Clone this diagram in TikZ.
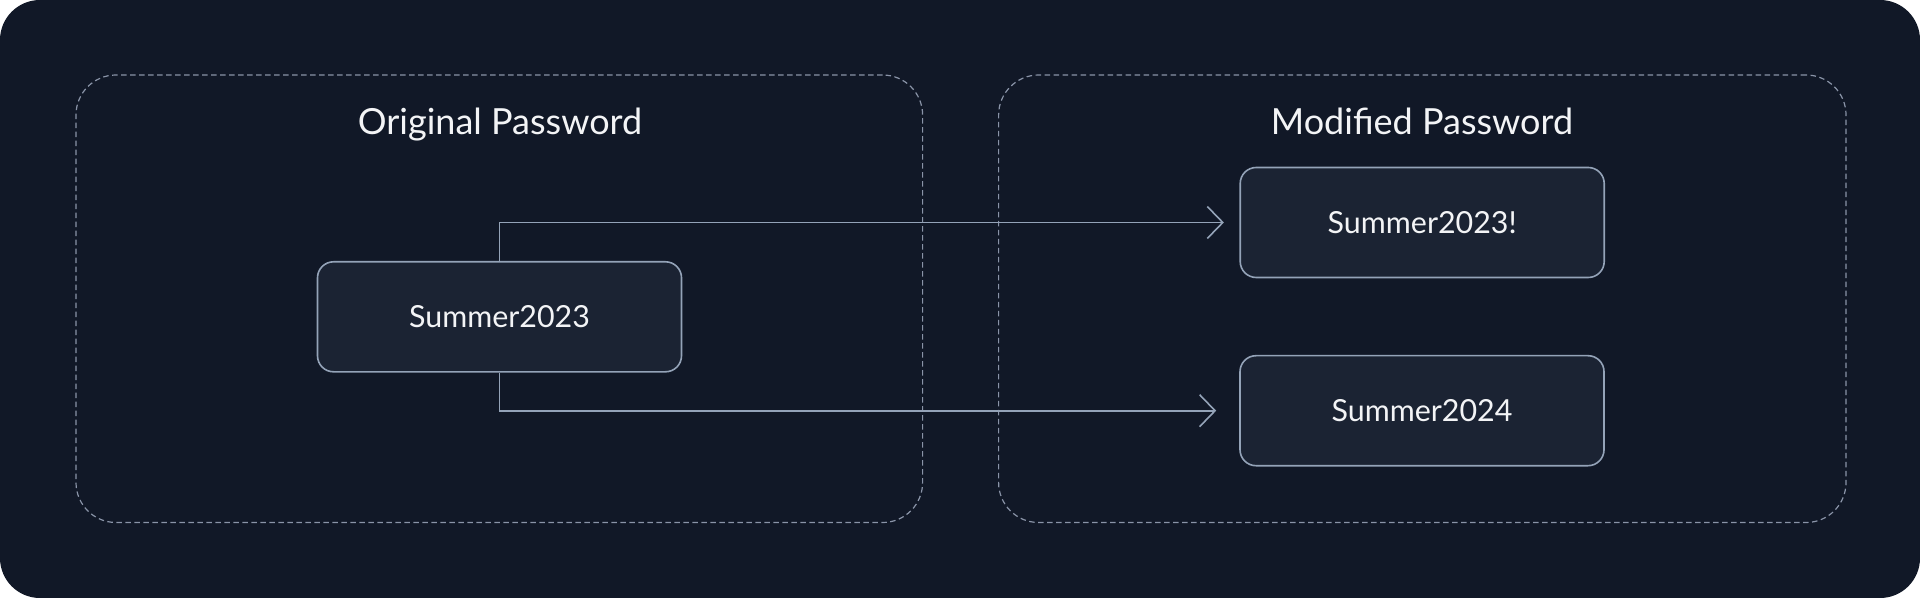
\documentclass[tikz,border=0pt]{standalone}
\usepackage{fontspec}
\setmainfont{Lato}
\usetikzlibrary{arrows.meta,positioning}
\definecolor{bgdark}{HTML}{111827}
\definecolor{boxfill}{HTML}{1B2333}
\definecolor{boxline}{HTML}{94A3B8}
\definecolor{dashline}{HTML}{8A94A8}
\definecolor{txt}{HTML}{F3F4F6}
\tikzset{
  pwbox/.style={draw=boxline, line width=0.8pt, fill=boxfill, rounded corners=8pt,
    minimum width=182pt, minimum height=55pt, inner sep=0pt,
    text=txt, font=\fontsize{15.2}{17}\selectfont},
  groupbox/.style={draw=dashline, line width=0.6pt, dash pattern=on 2.75pt off 1.75pt,
    rounded corners=20pt, inner sep=0pt},
  grouptitle/.style={text=txt, font=\fontsize{18}{20}\selectfont, anchor=base, inner sep=0pt},
  conn/.style={draw=boxline, line width=0.8pt,
    -{Straight Barb[length=7.75pt,width=16pt,line width=0.8pt]}},
}
\begin{document}
\begin{tikzpicture}[x=0.5pt,y=-0.5pt]
\useasboundingbox (0,0) rectangle (1920,598);
\fill[white] (0,0) rectangle (1920,598);
\fill[bgdark, rounded corners=20pt] (0,0) rectangle (1920,598);
% group boxes
\node[groupbox, minimum width=423.3pt, minimum height=223.75pt] (gleft) at (499.3,298.75) {};
\node[groupbox, minimum width=423.7pt, minimum height=223.75pt] (gright) at (1422.3,298.75) {};
\node[grouptitle] (tleft) at (500,135) {Original Password};
\node[grouptitle] (tright) at (1422,135) {Modified Password};
% password boxes
\node[pwbox] (src) at (499.5,316.8) {Summer2023};
\node[pwbox] (t1) at (1422.2,222.5) {Summer2023!};
\node[pwbox] (t2) at (1422,410.7) {Summer2024};
% connectors
\draw[conn] (src.north) |- ([xshift=-7.75pt]t1.west);
\draw[conn] (src.south) |- ([xshift=-11.5pt]t2.west);
\end{tikzpicture}
\end{document}
